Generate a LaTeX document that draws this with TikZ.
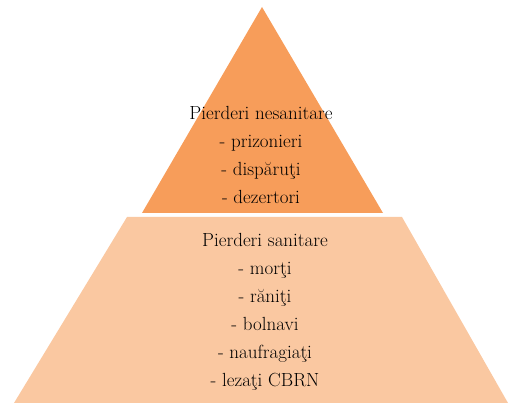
\documentclass[tikz,border=0pt]{standalone}
\usepackage{xcolor}
\usepackage{tikz}
\definecolor{topfill}{HTML}{F79D5A}
\definecolor{lowfill}{HTML}{FAC8A1}
\tikzset{lista/.style={align=center, font=\fontsize{19}{28}\selectfont}}

\begin{document}
\begin{tikzpicture}[x=1pt,y=-1pt]
    		\useasboundingbox (0,0) rectangle (509,403);
    		\coordinate (V) at (262,7);
    		\coordinate (TL) at (142,213);
    		\coordinate (TR) at (383,213);
    		\coordinate (BL) at (127,217);
    		\coordinate (BR) at (402,217);
    		\coordinate (FL) at (14,403);
    		\coordinate (FR) at (508,403);
    		\fill[topfill] (V) -- (TR) -- (TL) -- cycle;
    		\fill[lowfill] (BL) -- (BR) -- (FR) -- (FL) -- cycle;
    		\node[lista] (nesan) at (261,155) {Pierderi nesanitare\\- prizonieri\\- dispăruţi\\- dezertori};
    		\node[lista] (san) at (265,312) {Pierderi sanitare\\- morţi\\- răniţi\\- bolnavi\\- naufragiaţi\\- lezaţi CBRN};
    		
    \end{tikzpicture}
\end{document}
